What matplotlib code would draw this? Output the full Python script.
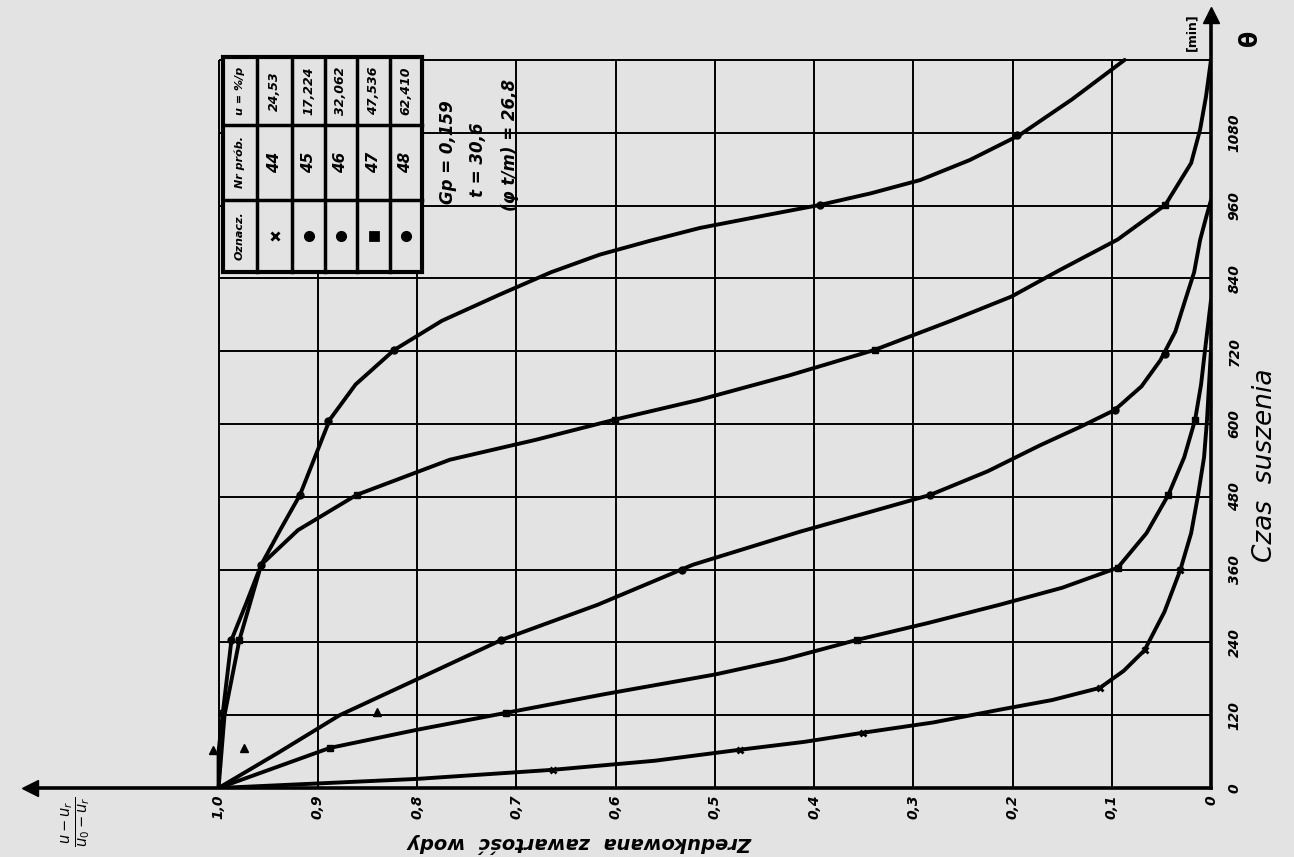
import numpy as np
import matplotlib.pyplot as plt
from matplotlib.lines import Line2D
from matplotlib.patches import Rectangle

# Zredukowana zawartosc wody (u-ur)/(u0-ur) w funkcji czasu suszenia [min]
# krzywe (odczyt z wykresu) -- m: zredukowana zawartosc wody, t: czas [min]
m44 = [1.0, 1.0, 0.996, 0.987, 0.972, 0.957, 0.938, 0.918, 0.903, 0.888, 0.862, 0.823,
       0.775, 0.717, 0.665, 0.616, 0.565, 0.515, 0.455, 0.394, 0.343, 0.293, 0.243, 0.193, 0.140, 0.087]
t44 = [0, 60, 120, 244, 305, 368, 425, 483, 545, 607, 665, 722,
       770, 813, 850, 879, 902, 923, 942, 961, 980, 1002, 1035, 1076, 1135, 1200]

m45 = [1.0, 0.994, 0.979, 0.957, 0.920, 0.861, 0.767, 0.680, 0.601, 0.515, 0.425,
       0.339, 0.262, 0.201, 0.152, 0.094, 0.046, 0.020, 0.011, 0.005, 0.0]
t45 = [0, 120, 244, 368, 425, 483, 541, 574, 607, 640, 680,
       722, 770, 810, 854, 904, 961, 1030, 1085, 1140, 1200]

m46 = [1.0, 0.940, 0.878, 0.795, 0.715, 0.618, 0.522, 0.415, 0.283, 0.225, 0.172,
       0.132, 0.097, 0.070, 0.051, 0.036, 0.026, 0.017, 0.011, 0.005, 0.0]
t46 = [0, 58, 120, 183, 244, 302, 368, 422, 483, 522, 565,
       595, 623, 662, 705, 752, 804, 850, 903, 940, 969]

m47 = [1.0, 0.888, 0.800, 0.710, 0.610, 0.500, 0.430, 0.357, 0.285, 0.213, 0.150,
       0.094, 0.065, 0.043, 0.027, 0.016, 0.010, 0.006, 0.0]
t47 = [0, 66, 96, 124, 155, 187, 212, 244, 272, 302, 330,
       363, 420, 483, 545, 607, 665, 722, 804]

m48 = [1.0, 0.800, 0.663, 0.560, 0.475, 0.410, 0.351, 0.280, 0.213, 0.160, 0.112,
       0.088, 0.067, 0.047, 0.031, 0.020, 0.013, 0.007, 0.004, 0.0]
t48 = [0, 15, 30, 45, 63, 76, 91, 108, 129, 145, 165,
       193, 227, 290, 359, 420, 483, 545, 607, 722]

# punkty pomiarowe
pm44 = [0.997, 0.987, 0.957, 0.918, 0.890, 0.823, 0.394, 0.195]
pt44 = [124, 244, 368, 483, 605, 722, 961, 1076]
pm45 = [0.979, 0.861, 0.601, 0.339, 0.046]
pt45 = [244, 483, 607, 722, 961]
pm46 = [0.715, 0.533, 0.283, 0.097, 0.046]
pt46 = [244, 360, 483, 623, 715]
pm47 = [0.888, 0.710, 0.357, 0.094, 0.043, 0.016]
pt47 = [66, 124, 244, 363, 483, 607]
pm48 = [0.663, 0.475, 0.351, 0.112, 0.067, 0.031]
pt48 = [30, 63, 91, 165, 227, 359]
# pojedyncze trojkaty
pm_tr = [1.006, 0.974, 0.840]
pt_tr = [63, 66, 125]

xticks = [1.0, 0.9, 0.8, 0.7, 0.6, 0.5, 0.4, 0.3, 0.2, 0.1, 0.0]
xlabels = ['1,0', '0,9', '0,8', '0,7', '0,6', '0,5', '0,4', '0,3', '0,2', '0,1', '0']
yticks = [0, 120, 240, 360, 480, 600, 720, 840, 960, 1080]
ylabels = ['0', '120', '240', '360', '480', '600', '720', '840', '960', '1080']

proby = ['44', '45', '46', '47', '48']
u0 = ['24,53', '17,224', '32,062', '47,536', '62,410']
znaki = ['x', 'o', 'o', 's', 'o']

paper = '#e3e3e3'
W, H = 1294, 857

def fx(x):
    return x / W

def fy(y):
    return 1 - y / H

fig = plt.figure(figsize=(12.94, 8.57), dpi=100, facecolor=paper)
ax = fig.add_axes([fx(30), fy(788), fx(1211) - fx(30), fy(15) - fy(788)])
ax.set_facecolor(paper)
ax.set_xlim(1.19, 0)
ax.set_ylim(0, 1274)

# siatka
ax.vlines(xticks, 0, 1200, color='k', lw=1.4, zorder=1)
ax.hlines(yticks[1:] + [1200], 0, 1.0, color='k', lw=1.4, zorder=1)

kw = dict(color='k', lw=2.8, solid_capstyle='round', solid_joinstyle='round', zorder=3)
for m, t in [(m44, t44), (m45, t45), (m46, t46), (m47, t47), (m48, t48)]:
    ax.plot(m, t, **kw)

mk = dict(color='k', ls='none', zorder=4, clip_on=False)
ax.plot(pm44, pt44, marker='o', ms=5, **mk)
ax.plot(pm45, pt45, marker='s', ms=5, **mk)
ax.plot(pm46, pt46, marker='o', ms=5, **mk)
ax.plot(pm47, pt47, marker='s', ms=4, **mk)
ax.plot(pm48, pt48, marker='x', ms=5, mew=2, **mk)
ax.plot(pm_tr, pt_tr, marker='^', ms=6, **mk)

# osie
for s in ['top', 'left']:
    ax.spines[s].set_visible(False)
ax.spines['bottom'].set_linewidth(2.6)
ax.spines['right'].set_linewidth(2.6)
ax.plot(1.19, 0, marker='<', ms=11, color='k', clip_on=False, zorder=5)
ax.plot(0, 1274, marker='^', ms=11, color='k', clip_on=False, zorder=5)

tick_font = dict(fontsize=10, fontweight='bold', fontstyle='italic')
ax.set_xticks(xticks)
ax.set_xticklabels(xlabels, rotation=90, va='top', ha='center', **tick_font)
ax.yaxis.tick_right()
ax.set_yticks(yticks)
ax.set_yticklabels(ylabels, rotation=90, va='center', ha='left', **tick_font)
ax.tick_params(axis='x', length=0, pad=5)
ax.tick_params(axis='y', length=0, pad=12)

fig.text(fx(1265), fy(465), 'Czas  suszenia', rotation=90, ha='center', va='center',
         fontsize=19, fontstyle='italic')
fig.text(fx(580), fy(843), 'Zredukowana  zawartość  wody', rotation=180, ha='center',
         va='center', fontsize=14, fontstyle='italic', fontweight='bold')
fig.text(fx(76), fy(822), r'$\frac{u-u_r}{u_0-u_r}$', rotation=90, ha='center',
         va='center', fontsize=15)
fig.text(fx(1250), fy(38), 'θ', rotation=90, ha='center', va='center', fontsize=17,
         fontweight='bold')
fig.text(fx(1192), fy(32), '[min]', rotation=90, ha='center', va='center', fontsize=9,
         fontweight='bold')

# tabela oznaczen
cols = [223, 257, 292, 325, 357, 390, 422]
rows = [57, 125, 200, 272]
fig.add_artist(Rectangle((fx(cols[0]), fy(rows[-1])), fx(cols[-1]) - fx(cols[0]),
                         fy(rows[0]) - fy(rows[-1]), transform=fig.transFigure,
                         facecolor=paper, edgecolor='k', lw=3, zorder=6))
for c in cols[1:-1]:
    fig.add_artist(Line2D([fx(c), fx(c)], [fy(rows[0]), fy(rows[-1])],
                          transform=fig.transFigure, color='k', lw=2.5, zorder=7))
for r in rows[1:-1]:
    fig.add_artist(Line2D([fx(cols[0]), fx(cols[-1])], [fy(r), fy(r)],
                          transform=fig.transFigure, color='k', lw=2.5, zorder=7))

cell = dict(rotation=90, ha='center', va='center', fontweight='bold',
            fontstyle='italic', zorder=8)
xc0 = (cols[0] + cols[1]) / 2
fig.text(fx(xc0), fy((rows[0] + rows[1]) / 2), 'u = %/p', fontsize=8, **cell)
fig.text(fx(xc0), fy((rows[1] + rows[2]) / 2), 'Nr prób.', fontsize=8, **cell)
fig.text(fx(xc0), fy((rows[2] + rows[3]) / 2), 'Oznacz.', fontsize=8, **cell)
for i in range(5):
    xc = (cols[i + 1] + cols[i + 2]) / 2
    fig.text(fx(xc), fy((rows[0] + rows[1]) / 2), u0[i], fontsize=9, **cell)
    fig.text(fx(xc), fy((rows[1] + rows[2]) / 2), proby[i], fontsize=11, **cell)
    fig.add_artist(Line2D([fx(xc)], [fy((rows[2] + rows[3]) / 2)], marker=znaki[i],
                          ms=6, mew=2, color='k', transform=fig.transFigure, zorder=8))

ann = dict(rotation=90, ha='center', va='center', fontsize=12, fontweight='bold',
           fontstyle='italic')
fig.text(fx(448), fy(152), 'Gp = 0,159', **ann)
fig.text(fx(478), fy(160), 't = 30,6', **ann)
fig.text(fx(510), fy(145), '(φ t/m) = 26,8', **ann)

fig.savefig('out.png', dpi=100, facecolor=paper)
